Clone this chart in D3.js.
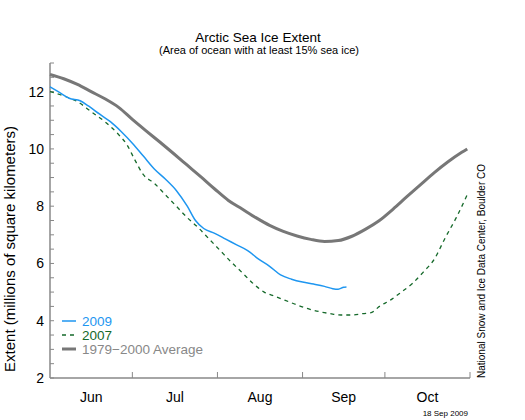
<!DOCTYPE html>
<html>
<head>
<meta charset="utf-8">
<script src="https://cdn.jsdelivr.net/npm/d3@7"></script>
<style>
  body { margin: 0; background: #fff; }
  svg text { font-family: "Liberation Sans", Arial, Helvetica, sans-serif; }
</style>
</head>
<body>
<div id="chart"></div>
<script>
// days since Jun 1 and extent (millions of km^2)
const avgDays = [0, 5, 10, 15, 20, 25, 30, 35, 40, 45, 50, 55, 60, 65, 70, 75, 80, 85, 90, 95, 100, 105, 110, 115, 120, 125, 130, 135, 140, 145, 150, 152];
const avgValues = [12.6, 12.45, 12.25, 12.0, 11.75, 11.45, 11.03, 10.63, 10.24, 9.84, 9.43, 9.02, 8.6, 8.2, 7.9, 7.6, 7.33, 7.12, 6.96, 6.84, 6.77, 6.8, 6.95, 7.2, 7.5, 7.9, 8.33, 8.75, 9.17, 9.55, 9.88, 10.0];

const days2009 = [0, 3, 7, 11, 14, 18, 22, 26, 30, 34, 38, 42, 46, 50, 53, 56, 60, 64, 68, 72, 76, 80, 84, 88, 92, 96, 100, 103, 105, 107, 108];
const values2009 = [12.17, 12.0, 11.77, 11.68, 11.5, 11.22, 10.95, 10.6, 10.2, 9.75, 9.3, 8.95, 8.55, 8.0, 7.5, 7.22, 7.05, 6.85, 6.65, 6.45, 6.15, 5.9, 5.6, 5.45, 5.35, 5.28, 5.2, 5.12, 5.1, 5.17, 5.18];

const days2007 = [0, 5, 10, 15, 20, 25, 28, 31, 34, 38, 42, 46, 50, 54, 58, 62, 66, 70, 74, 78, 82, 86, 90, 94, 98, 102, 106, 110, 114, 117, 120, 124, 128, 132, 136, 140, 144, 148, 152];
const values2007 = [12.0, 11.85, 11.65, 11.3, 10.95, 10.5, 10.15, 9.6, 9.1, 8.8, 8.4, 8.0, 7.6, 7.25, 6.85, 6.45, 6.05, 5.68, 5.3, 5.0, 4.85, 4.7, 4.55, 4.42, 4.32, 4.25, 4.2, 4.2, 4.25, 4.28, 4.5, 4.72, 5.0, 5.3, 5.7, 6.15, 6.9, 7.6, 8.4];

const monthLabels = ["Jun", "Jul", "Aug", "Sep", "Oct"];
const yTicks = [2, 4, 6, 8, 10, 12];

const legendItems = [
    { label: "2009", color: "#1e96f0", width: 1.5, dash: null },
    { label: "2007", color: "#15692a", width: 1.3, dash: "4,4" },
    { label: "1979\u22122000 Average", color: "#777777", width: 3, dash: null }
];

const width = 525, height = 420;
const margin = { top: 63, right: 55, bottom: 42, left: 50 };

const svg = d3.select("#chart").append("svg")
    .attr("width", width)
    .attr("height", height);

const start = new Date(2009, 5, 1);
const toDate = d => d3.timeDay.offset(start, d);

const x = d3.scaleTime()
    .domain([start, new Date(2009, 10, 1)])
    .range([margin.left, width - margin.right]);

const y = d3.scaleLinear()
    .domain([2, 13])
    .range([height - margin.bottom, margin.top]);

const axisColor = "#888";

// y axis
svg.append("line")
    .attr("x1", margin.left).attr("x2", margin.left)
    .attr("y1", y(13)).attr("y2", y(2))
    .attr("stroke", axisColor).attr("stroke-width", 1.5);

svg.selectAll(".ytick")
    .data(d3.range(2, 13.01, 0.5))
    .enter().append("line")
    .attr("x1", margin.left).attr("x2", margin.left + 4)
    .attr("y1", d => y(d)).attr("y2", d => y(d))
    .attr("stroke", axisColor).attr("stroke-width", 1);

svg.selectAll(".ylab")
    .data(yTicks)
    .enter().append("text")
    .attr("x", margin.left - 6)
    .attr("y", d => y(d))
    .attr("dy", "0.36em")
    .attr("text-anchor", "end")
    .style("font-size", "14px")
    .text(d => d);

// x axis
svg.append("line")
    .attr("x1", x.range()[0]).attr("x2", x.range()[1])
    .attr("y1", y(2)).attr("y2", y(2))
    .attr("stroke", axisColor).attr("stroke-width", 1.5);

const months = d3.timeMonth.range(start, new Date(2009, 10, 2));
svg.selectAll(".xtick")
    .data(months.slice(1))
    .enter().append("line")
    .attr("x1", d => x(d)).attr("x2", d => x(d))
    .attr("y1", y(2)).attr("y2", y(2) - 6)
    .attr("stroke", axisColor).attr("stroke-width", 1);

svg.selectAll(".xlab")
    .data(monthLabels)
    .enter().append("text")
    .attr("x", (d, i) => (x(months[i]) + x(months[i + 1])) / 2)
    .attr("y", 402)
    .attr("text-anchor", "middle")
    .style("font-size", "14px")
    .text(d => d);

// lines
const line = d3.line()
    .x(d => x(toDate(d[0])))
    .y(d => y(d[1]))
    .curve(d3.curveMonotoneX);

const series = [
    { days: avgDays, values: avgValues, style: legendItems[2] },
    { days: days2007, values: values2007, style: legendItems[1] },
    { days: days2009, values: values2009, style: legendItems[0] }
];

series.forEach(s => {
    svg.append("path")
        .datum(d3.zip(s.days, s.values))
        .attr("d", line)
        .attr("fill", "none")
        .attr("stroke", s.style.color)
        .attr("stroke-width", s.style.width)
        .attr("stroke-dasharray", s.style.dash);
});

// legend
const legend = svg.selectAll(".legend")
    .data(legendItems)
    .enter().append("g")
    .attr("transform", (d, i) => `translate(62, ${321 + i * 14})`);

legend.append("line")
    .attr("x1", 0).attr("x2", 14)
    .attr("stroke", d => d.color)
    .attr("stroke-width", d => d.width)
    .attr("stroke-dasharray", d => d.dash);

legend.append("text")
    .attr("x", 20)
    .attr("dy", "0.36em")
    .attr("fill", d => d.color === "#777777" ? "#888" : d.color)
    .style("font-size", "13.5px")
    .text(d => d.label);

// titles
svg.append("text")
    .attr("x", 258).attr("y", 42)
    .attr("text-anchor", "middle")
    .style("font-size", "13.5px")
    .text("Arctic Sea Ice Extent");

svg.append("text")
    .attr("x", 259).attr("y", 54)
    .attr("text-anchor", "middle")
    .style("font-size", "11px")
    .text("(Area of ocean with at least 15% sea ice)");

svg.append("text")
    .attr("transform", "translate(15, 249) rotate(-90)")
    .attr("text-anchor", "middle")
    .style("font-size", "15px")
    .text("Extent (millions of square kilometers)");

svg.append("text")
    .attr("transform", "translate(485, 378) rotate(-90)")
    .attr("text-anchor", "start")
    .style("font-size", "10px")
    .text("National Snow and Ice Data Center, Boulder CO");

svg.append("text")
    .attr("x", 468).attr("y", 416)
    .attr("text-anchor", "end")
    .style("font-size", "8px")
    .text("18 Sep 2009");
</script>
</body>
</html>
